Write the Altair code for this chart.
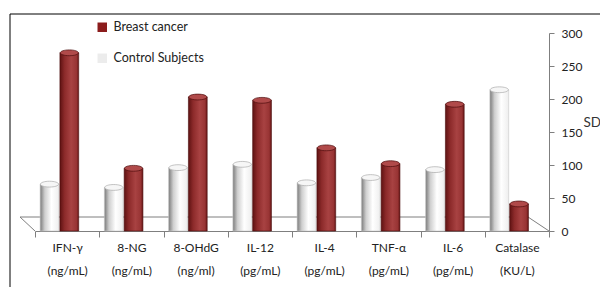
import altair as alt
import pandas as pd

categories = ["IFN-γ|(ng/mL)", "8-NG|(ng/mL)", "8-OHdG|(ng/ml)", "IL-12|(pg/mL)",
              "IL-4|(pg/mL)", "TNF-α|(pg/mL)", "IL-6|(pg/mL)", "Catalase|(KU/L)"]
breast_cancer = [270, 95, 203, 198, 126, 102, 192, 41]
control_subjects = [71, 66, 96, 101, 73, 81, 93, 214]
series_order = ["Control Subjects", "Breast cancer"]
legend_order = ["Breast cancer", "Control Subjects"]
y_ticks = [0, 50, 100, 150, 200, 250, 300]

rows = []
for c, bc, cs in zip(categories, breast_cancer, control_subjects):
    rows.append({"category": c, "series": "Control Subjects", "value": cs})
    rows.append({"category": c, "series": "Breast cancer", "value": bc})
df = pd.DataFrame(rows)

FONT = "Lato"
W, H = 514, 198

red_grad = {"gradient": "linear", "x1": 0, "x2": 1, "y1": 0, "y2": 0,
            "stops": [{"offset": 0, "color": "#5e1212"},
                      {"offset": 0.25, "color": "#8c2a2a"},
                      {"offset": 0.6, "color": "#a84242"},
                      {"offset": 0.88, "color": "#983434"},
                      {"offset": 1, "color": "#661414"}]}
white_grad = {"gradient": "linear", "x1": 0, "x2": 1, "y1": 0, "y2": 0,
              "stops": [{"offset": 0, "color": "#7a7a7a"},
                        {"offset": 0.25, "color": "#cfcfcf"},
                        {"offset": 0.6, "color": "#ffffff"},
                        {"offset": 1, "color": "#eeeeee"}]}

is_bc = alt.datum.series == "Breast cancer"

x_enc = alt.X("category:N", sort=categories,
              scale=alt.Scale(paddingInner=0, paddingOuter=0),
              axis=alt.Axis(title=None, labelAngle=0, labelExpr="split(datum.label, '|')",
                            labelFont=FONT, labelFontSize=12, labelColor="#222222",
                            labelLineHeight=23, labelPadding=5, labelBaseline="top",
                            domainColor="#7f7f7f", tickColor="#7f7f7f", tickSize=6,
                            tickBand="extent"))
xoff_enc = alt.XOffset("series:N", sort=series_order,
                       scale=alt.Scale(paddingOuter=0.65, paddingInner=0.05, align=0.2))
y_enc = alt.Y("value:Q", scale=alt.Scale(domain=[0, 300], nice=False),
              axis=alt.Axis(orient="right", values=y_ticks, grid=False, title="SD",
                            labelOverlap=False,
                            domainColor="#7f7f7f", tickColor="#7f7f7f", tickSize=5,
                            labelPadding=7, labelFont=FONT, labelFontSize=12,
                            labelColor="#222222", titleAngle=0, titleX=34, titleY=89,
                            titleAlign="left", titleBaseline="middle", titleFont=FONT,
                            titleFontSize=13.5, titleFontWeight="normal", titleColor="#333333"))

bars = alt.Chart(df).mark_bar(strokeWidth=0.6).encode(
    x=x_enc, xOffset=xoff_enc, y=y_enc,
    fill=alt.condition(is_bc, alt.value(red_grad), alt.value(white_grad)),
    stroke=alt.condition(is_bc, alt.value("#4a0c0c"), alt.value("#c8c8c8")),
)

ellipse = "M -1 0 A 1 0.32 0 1 0 1 0 A 1 0.32 0 1 0 -1 0 Z"
caps = alt.Chart(df).mark_point(shape=ellipse, filled=True, size=330, strokeWidth=0.7,
                                opacity=1).encode(
    x=x_enc, xOffset=xoff_enc, y=y_enc,
    fill=alt.condition(is_bc, alt.value("#b04a4a"), alt.value("#f6f6f6")),
    stroke=alt.condition(is_bc, alt.value("#4a0c0c"), alt.value("#aaaaaa")),
)

legend_layer = alt.Chart(df).mark_point(filled=True, opacity=0, shape="square").encode(
    x=x_enc, y=y_enc,
    color=alt.Color("series:N",
                    scale=alt.Scale(domain=legend_order, range=["#8b1c1c", "#ececec"]),
                    legend=alt.Legend(orient="none", legendX=61, legendY=-12, title=None,
                                      symbolType="square", symbolSize=90, symbolOpacity=1,
                                      symbolStrokeWidth=0, labelFont=FONT, labelFontSize=12.5,
                                      labelColor="#222222", rowPadding=18, labelOffset=5,
                                      padding=0)),
)

one = alt.Data(values=[{}])
def rule(x1, x2, y1, y2, color="#000000", w=1.0):
    return alt.Chart(one).mark_rule(color=color, strokeWidth=w).encode(
        x=alt.value(x1), x2=alt.value(x2), y=alt.value(y1), y2=alt.value(y2))

frame_top = rule(-25, 570, -19, -19)
frame_left = rule(-25, -25, -19, 270)
floor_back = rule(-15, 493, 184, 184, "#7f7f7f")
floor_left = rule(-15, 0, 184, 198, "#7f7f7f")
floor_right = rule(493, 514, 184, 198, "#7f7f7f")

chart = alt.layer(frame_top, frame_left, floor_back, floor_left, floor_right,
                  bars, caps, legend_layer).properties(
    width=W, height=H,
    autosize=alt.AutoSizeParams(type="none"),
    padding={"left": 27, "top": 25, "right": 51, "bottom": 56},
    background="white",
).configure_view(stroke=None)

chart.save("out.html", embed_options={"renderer": "svg", "actions": False})
